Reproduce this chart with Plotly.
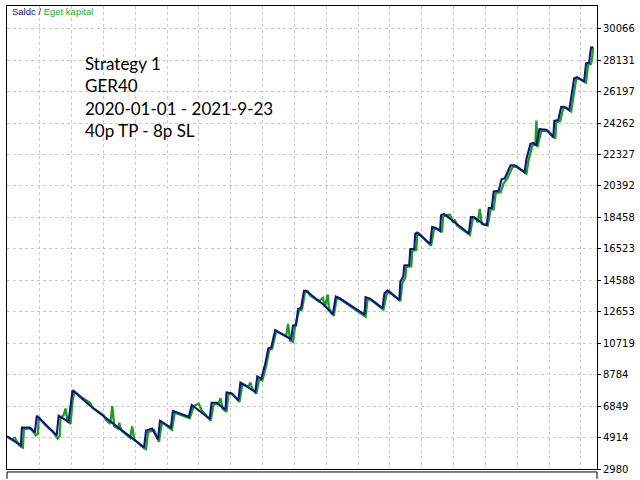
import plotly.graph_objects as go

# balance curve: deal index -> value
balance_x = [0, 14, 15, 23, 28, 30, 50, 52, 62, 66, 84, 138, 140, 146, 152, 154, 165, 167, 183, 186,
             204, 206, 211, 220, 221, 226, 233, 235, 250, 252, 256, 260, 263, 266, 270, 286, 288, 291,
             293, 296, 299, 301, 320, 328, 331, 335, 360, 361, 366, 378, 380, 383, 395, 396, 399, 400,
             405, 406, 410, 411, 413, 426, 428, 431, 436, 437, 440, 465, 467, 470, 480, 483, 485, 488,
             490, 495, 498, 501, 507, 511, 521, 523, 527, 530, 533, 536, 543, 550, 551, 555, 558, 561,
             566, 571, 574, 581, 583, 586, 588, 590]
balance_y = [4980, 4434, 5525, 5525, 5222, 6252, 5040, 6252, 5889, 7828, 6858, 4313, 5343, 5465, 4798,
             5949, 5525, 6555, 6192, 6919, 6071, 7058, 7058, 6616, 7689, 7646, 7222, 8295, 7725, 8676,
             8537, 9446, 10391, 10452, 11525, 10961, 11809, 11809, 12815, 12876, 13949, 13949, 13021,
             12476, 13585, 13482, 12476, 13543, 13446, 12876, 13785, 13949, 13385, 14494, 14839, 15506,
             15530, 16512, 16512, 17463, 17524, 16815, 17869, 17827, 17627, 18597, 18675, 17463, 18475,
             18475, 18027, 17990, 19039, 19039, 20051, 20090, 20815, 20850, 21663, 21663, 21221, 22069,
             22978, 23039, 22875, 23887, 23845, 23384, 24390, 24450, 25263, 25263, 25057, 27020, 27080,
             26814, 27929, 27970, 28899, 28940]

# equity curve
equity_x = [0, 5, 8, 10, 14, 16, 17, 24, 29, 31, 32, 40, 46, 51, 53, 54, 57, 59, 61, 64, 66, 68, 75,
            84, 86, 97, 99, 104, 106, 108, 112, 113, 115, 124, 126, 128, 138, 140, 142, 148, 153, 156,
            166, 169, 184, 188, 191, 193, 196, 205, 208, 213, 215, 217, 221, 223, 227, 234, 237, 243,
            245, 247, 251, 254, 257, 261, 264, 267, 271, 281, 283, 285, 288, 290, 294, 297, 300, 303,
            305, 314, 318, 320, 323, 324, 329, 332, 336, 358, 361, 363, 367, 379, 382, 385, 396, 398,
            401, 402, 407, 408, 412, 413, 415, 427, 430, 433, 438, 439, 442, 446, 449, 451, 453, 466,
            469, 472, 474, 476, 478, 484, 487, 490, 492, 497, 500, 503, 509, 513, 523, 525, 529, 532,
            533, 534, 538, 545, 552, 553, 557, 560, 563, 568, 573, 576, 583, 585, 588, 589, 590, 591]
equity_y = [4980, 4800, 4900, 4650, 4350, 4300, 5450, 5480, 5050, 5150, 6150, 5600, 5300, 4850, 5000,
            6150, 6300, 6700, 5900, 5750, 7200, 7750, 7400, 7040, 6750, 6300, 6050, 5750, 6850, 5600,
            5450, 5830, 5350, 4900, 5600, 4800, 4250, 4200, 5250, 5380, 4650, 5850, 5400, 6450, 6100,
            6850, 6950, 7000, 6600, 5950, 6950, 6980, 7340, 6700, 6500, 7600, 7580, 7100, 8200, 8050,
            8300, 7900, 7600, 8550, 8420, 9350, 10300, 10380, 11450, 11150, 11900, 10880, 10800, 11750,
            12720, 12800, 13850, 13900, 13650, 13300, 13500, 12950, 13706, 12900, 12400, 13500, 13400,
            12500, 12350, 13450, 13350, 12780, 13700, 13900, 13300, 14400, 14750, 15400, 15450, 16400,
            16450, 17380, 17450, 16720, 17780, 17760, 17550, 18500, 18600, 18615, 18150, 18310, 17950,
            17380, 18400, 18400, 18150, 18980, 18050, 17950, 18950, 18950, 19950, 20000, 20554, 20780,
            21550, 21600, 21150, 21950, 22880, 22950, 24420, 22780, 23800, 23780, 23300, 24300, 24380,
            25180, 25200, 24980, 26950, 27000, 26750, 27850, 27900, 28200, 28850, 28880]

y_ticks = [2980, 4914, 6849, 8784, 10719, 12653, 14588, 16523, 18458, 20392, 22327, 24262, 26197,
           28131, 30066]

notes = ["Strategy 1", "GER40", "2020-01-01 - 2021-9-23", "40p TP - 8p SL"]

NAVY = "#0c1784"
GREEN = "#1e9e1e"

fig = go.Figure()
fig.add_trace(go.Scatter(x=equity_x, y=equity_y, mode="lines",
                         line=dict(color=GREEN, width=2.3), name="Eget kapital"))
fig.add_trace(go.Scatter(x=balance_x, y=balance_y, mode="lines",
                         line=dict(color=NAVY, width=2.1), name="Saldc"))

fig.update_layout(
    width=640, height=480,
    margin=dict(l=7, r=39, t=5, b=5),
    paper_bgcolor="white", plot_bgcolor="white",
    showlegend=False,
)
fig.update_xaxes(range=[0, 594], showticklabels=False, ticks="", zeroline=False,
                 showgrid=True, gridcolor="#c8c8c8", griddash="3px,3px", gridwidth=1,
                 tick0=33, dtick=32.05,
                 showline=True, mirror=True, linecolor="black", linewidth=1)
fig.update_yaxes(range=[2980, 31460], side="right", zeroline=False,
                 tickvals=y_ticks, ticktext=[str(v) for v in y_ticks],
                 ticks="outside", ticklen=3, tickcolor="black", ticklabeloverflow="allow",
                 tickfont=dict(family="DejaVu Sans", size=10, color="black"),
                 showgrid=True, gridcolor="#c8c8c8", griddash="3px,3px", gridwidth=1,
                 showline=True, mirror=True, linecolor="black", linewidth=1)

# legend text in the corner
fig.add_annotation(xref="paper", yref="paper", x=0.005, y=(475 - 11) / 470,
                   xanchor="left", yanchor="middle", showarrow=False,
                   text="<span style='color:%s'>Saldc</span> / <span style='color:#22b022'>Eget kapital</span>" % NAVY,
                   font=dict(family="Liberation Sans", size=9.5, color="#202020"))

for i, t in enumerate(notes):
    yc = 63.5 + i * 22.7
    fig.add_annotation(xref="paper", yref="paper", x=(84 - 7) / 594, y=(475 - yc) / 470,
                       xanchor="left", yanchor="middle", showarrow=False, text=t,
                       font=dict(family="Lato", size=17, color="black"))

# top edge of the panel below
fig.add_shape(type="line", xref="paper", yref="paper", x0=0, x1=1, y0=-3 / 470, y1=-3 / 470,
              line=dict(color="black", width=1))
fig.add_shape(type="line", xref="paper", yref="paper", x0=0, x1=0, y0=-3 / 470, y1=-10 / 470,
              line=dict(color="black", width=1))
fig.add_shape(type="line", xref="paper", yref="paper", x0=1, x1=1, y0=-3 / 470, y1=-10 / 470,
              line=dict(color="black", width=1))

# page body margin would shift the whole figure by 8px
fig.write_html("out.html", config={"displayModeBar": False},
               post_script="document.body.style.margin='0';")
